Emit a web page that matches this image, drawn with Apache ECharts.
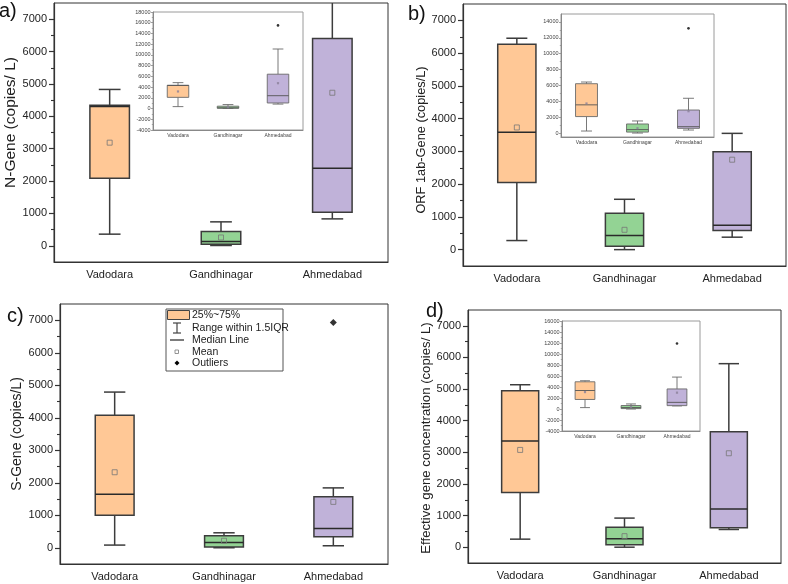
<!DOCTYPE html>
<html>
<head>
<meta charset="utf-8">
<script src="https://cdn.jsdelivr.net/npm/echarts@6/dist/echarts.min.js"></script>
<style>html,body{margin:0;padding:0;background:#fff}#chart{width:788px;height:584px}</style>
</head>
<body>
<div id="chart"></div>
<script>
// ---------------- DATA ----------------
const categories = ['Vadodara', 'Gandhinagar', 'Ahmedabad'];

// Each box: [min whisker, Q1, median, Q3, max whisker]
// Panel a) N-Gene (main + inset share the same data)
const nGeneBox = [[360, 2086, 4300, 4340, 4830], [10, 51, 134, 442, 740], [832, 1038, 2395, 6403, 11100]];
const nGeneMean = [3186, 257, 4728];
const nGeneOutliers = [[2, 15500]];

// Panel b) ORF 1ab-Gene (main)
const orfBox = [[277, 2049, 3586, 6270, 6455], [0, 102, 430, 1107, 1537], [380, 584, 748, 2992, 3550]];
const orfMean = [3730, 605, 2746];
const orfOutliers = [[2, 13200]];
// Panel b) inset
const orfInsetBox = [[254, 2072, 3552, 6216, 6427], [0, 120, 430, 1142, 1522], [380, 592, 800, 2900, 4380]];
const orfInsetMean = [3721, 605, 2750];
const orfInsetOutliers = [[2, 13190]];

// Panel c) S-Gene
const sGeneBox = [[82, 1003, 1648, 4074, 4790], [0, 20, 164, 368, 460], [61, 338, 594, 1566, 1842]];
const sGeneMean = [2323, 215, 1412];
const sGeneOutliers = [[2, 6930]];

// Panel d) Effective gene concentration (main + inset share)
const effBox = [[254, 1733, 3361, 4947, 5137], [0, 74, 264, 634, 920], [560, 613, 1205, 3647, 5803]];
const effMean = [3076, 349, 2970];
const effOutliers = [[2, 11900]];

// Tick labels
const mainTicks = [0, 1000, 2000, 3000, 4000, 5000, 6000, 7000];
const mainMinorTicks = [500, 1500, 2500, 3500, 4500, 5500, 6500];
const insetTicksA = [-4000, -2000, 0, 2000, 4000, 6000, 8000, 10000, 12000, 14000, 16000, 18000];
const insetMinorA = [-3000, -1000, 1000, 3000, 5000, 7000, 9000, 11000, 13000, 15000, 17000];
const insetTicksB = [0, 2000, 4000, 6000, 8000, 10000, 12000, 14000];
const insetMinorB = [1000, 3000, 5000, 7000, 9000, 11000, 13000];
const insetTicksD = [-4000, -2000, 0, 2000, 4000, 6000, 8000, 10000, 12000, 14000, 16000];
const insetMinorD = [-3000, -1000, 1000, 3000, 5000, 7000, 9000, 11000, 13000, 15000];

// ---------------- STYLE ----------------
const boxColors = ['#FFC896', '#93D394', '#C0B2D9'];
const FONT = 'Liberation Sans, Arial, Helvetica, sans-serif';

function boxRenderer(st) {
  return function (params, api) {
    const idx = api.value(0);
    const v = [api.value(1), api.value(2), api.value(3), api.value(4), api.value(5)];
    const cs = params.coordSys;
    const top = cs.y, bot = cs.y + cs.height;
    const cl = y => Math.max(top, Math.min(bot, y));
    const band = api.size([1, 0])[0];
    const bw = band * st.boxFrac, cw = bw * st.capFrac;
    const x = api.coord([idx, v[2]])[0];
    const y = v.map(val => api.coord([idx, val])[1]);
    const ls = { stroke: st.stroke, lineWidth: st.lw, fill: null };
    const ch = [];
    ch.push({ type: 'line', shape: { x1: x, y1: cl(y[3]), x2: x, y2: cl(y[4]) }, style: ls });
    if (y[4] >= top) ch.push({ type: 'line', shape: { x1: x - cw / 2, y1: y[4], x2: x + cw / 2, y2: y[4] }, style: ls });
    ch.push({ type: 'line', shape: { x1: x, y1: cl(y[1]), x2: x, y2: cl(y[0]) }, style: ls });
    if (y[0] <= bot) ch.push({ type: 'line', shape: { x1: x - cw / 2, y1: y[0], x2: x + cw / 2, y2: y[0] }, style: ls });
    ch.push({ type: 'rect', shape: { x: x - bw / 2, y: cl(y[3]), width: bw, height: cl(y[1]) - cl(y[3]) },
      style: { fill: boxColors[idx], stroke: st.stroke, lineWidth: st.lw } });
    ch.push({ type: 'line', shape: { x1: x - bw / 2, y1: y[2], x2: x + bw / 2, y2: y[2] },
      style: { stroke: st.median, lineWidth: st.lw } });
    return { type: 'group', children: ch };
  };
}

const mainStyle = { boxFrac: 0.355, capFrac: 0.55, lw: 1.5, stroke: '#3c3c3c', median: '#2a2a2a' };
const insetStyle = { boxFrac: 0.43, capFrac: 0.5, lw: 0.9, stroke: '#6a6a6a', median: '#555' };
const plainNum = v => String(v);

const grids = [], xAxes = [], yAxes = [], series = [];

function addPanel(p) {
  const gi = grids.length;
  const inset = !!p.inset;
  grids.push({ left: p.left, top: p.top, width: p.width, height: p.height, show: true,
    borderColor: inset ? '#9a9a9a' : '#333', borderWidth: 1,
    backgroundColor: inset ? '#fff' : 'transparent', containLabel: false });
  const axisColor = inset ? '#888' : '#333';
  xAxes.push({ type: 'category', gridIndex: gi, data: categories, position: 'bottom',
    axisLine: { onZero: false, lineStyle: { color: axisColor, width: inset ? 1 : 1.2 } },
    axisTick: { alignWithLabel: true, length: inset ? 2 : 5, lineStyle: { color: axisColor, width: inset ? 0.8 : 1.2 } },
    axisLabel: { color: inset ? '#444' : '#222', fontFamily: FONT, fontSize: inset ? 5 : 11, margin: inset ? 3 : 7 },
    splitLine: { show: false } });
  const yi = yAxes.length;
  yAxes.push({ type: 'value', gridIndex: gi, position: 'left', min: p.min, max: p.max,
    name: p.title || '', nameLocation: 'middle', nameGap: p.nameGap || 35,
    nameTextStyle: { fontFamily: FONT, fontSize: p.titleSize || 14, color: '#222', padding: p.titlePad || 0 },
    axisLine: { show: true, onZero: false, lineStyle: { color: axisColor, width: inset ? 1 : 1.2 } },
    axisTick: { show: true, customValues: p.ticks, length: inset ? 2 : 5, lineStyle: { color: axisColor, width: inset ? 0.8 : 1.2 } },
    axisLabel: { customValues: p.ticks, formatter: plainNum, color: inset ? '#444' : '#222', fontFamily: FONT, fontSize: inset ? 5.5 : 11, margin: inset ? 2.5 : 7 },
    splitLine: { show: false } });
  yAxes.push({ type: 'value', gridIndex: gi, position: 'left', min: p.min, max: p.max,
    axisLine: { show: false, onZero: false }, axisLabel: { show: false }, splitLine: { show: false },
    axisTick: { show: true, customValues: p.minor, length: inset ? 1.2 : 3, lineStyle: { color: axisColor, width: inset ? 0.7 : 1.1 } } });
  series.push({ type: 'custom', xAxisIndex: gi, yAxisIndex: yi, renderItem: boxRenderer(inset ? insetStyle : mainStyle),
    encode: { x: 0, y: [1, 2, 3, 4, 5] }, data: p.box.map((b, i) => [i].concat(b)), z: 2 });
  series.push({ type: 'scatter', xAxisIndex: gi, yAxisIndex: yi, data: p.mean.map((m, i) => [i, m]),
    symbol: 'rect', symbolSize: inset ? 2.2 : 5, z: 3, clip: true,
    itemStyle: inset ? { color: '#8a7f99' } : { color: 'rgba(0,0,0,0)', borderColor: '#777', borderWidth: 1 } });
  series.push({ type: 'scatter', xAxisIndex: gi, yAxisIndex: yi, data: p.outliers,
    symbol: inset ? 'circle' : 'diamond', symbolSize: inset ? 2.6 : 7, z: 3, clip: true,
    itemStyle: { color: '#000' } });
}

// a) main + inset
addPanel({ left: 54, top: 3, width: 334, height: 259, min: -500, max: 7500, ticks: mainTicks, minor: mainMinorTicks,
  title: 'N-Gene (copies/ L)', nameGap: 33, titleSize: 15.5, titlePad: [0, 0, 0, 20],
  box: nGeneBox, mean: nGeneMean, outliers: nGeneOutliers });
addPanel({ inset: true, left: 153, top: 12, width: 150, height: 118, min: -4000, max: 18000, ticks: insetTicksA, minor: insetMinorA,
  box: nGeneBox, mean: nGeneMean, outliers: nGeneOutliers });
// b) main + inset
addPanel({ left: 463, top: 4, width: 323, height: 262, min: -500, max: 7500, ticks: mainTicks, minor: mainMinorTicks,
  title: 'ORF 1ab-Gene (copies/L)', nameGap: 32, titleSize: 12.8, titlePad: [0, 10, 0, 0],
  box: orfBox, mean: orfMean, outliers: orfOutliers });
addPanel({ inset: true, left: 561, top: 14, width: 153, height: 123, min: -500, max: 15000, ticks: insetTicksB, minor: insetMinorB,
  box: orfInsetBox, mean: orfInsetMean, outliers: orfInsetOutliers });
// c) main
addPanel({ left: 60, top: 304, width: 328, height: 260, min: -500, max: 7500, ticks: mainTicks, minor: mainMinorTicks,
  title: 'S-Gene (copies/L)', nameGap: 31, titleSize: 14,
  box: sGeneBox, mean: sGeneMean, outliers: sGeneOutliers });
// d) main + inset
addPanel({ left: 468, top: 310, width: 313, height: 253, min: -500, max: 7500, ticks: mainTicks, minor: mainMinorTicks,
  title: 'Effective gene concentration (copies/ L)', nameGap: 30, titleSize: 13.2, titlePad: [0, 3, 0, 0],
  box: effBox, mean: effMean, outliers: effOutliers });
addPanel({ inset: true, left: 562, top: 321, width: 138, height: 110, min: -4000, max: 16000, ticks: insetTicksD, minor: insetMinorD,
  box: effBox, mean: effMean, outliers: effOutliers });

// Legend (panel c) and panel letters
const legendTexts = ['25%~75%', 'Range within 1.5IQR', 'Median Line', 'Mean', 'Outliers'];
const legendY = [315, 328, 340, 352, 363];
const graphic = [
  { type: 'rect', shape: { x: 166, y: 309, width: 117, height: 62 }, style: { fill: '#fff', stroke: '#555', lineWidth: 1 }, z: 10 },
  { type: 'rect', shape: { x: 167.5, y: 310.5, width: 22, height: 9 }, style: { fill: boxColors[0], stroke: '#444', lineWidth: 1 }, z: 11 },
  { type: 'line', shape: { x1: 177, y1: 323, x2: 177, y2: 333 }, style: { stroke: '#444', lineWidth: 1.2 }, z: 11 },
  { type: 'line', shape: { x1: 173, y1: 323, x2: 181, y2: 323 }, style: { stroke: '#444', lineWidth: 1.2 }, z: 11 },
  { type: 'line', shape: { x1: 173, y1: 333, x2: 181, y2: 333 }, style: { stroke: '#444', lineWidth: 1.2 }, z: 11 },
  { type: 'line', shape: { x1: 170, y1: 340, x2: 184, y2: 340 }, style: { stroke: '#444', lineWidth: 1.4 }, z: 11 },
  { type: 'rect', shape: { x: 175, y: 350, width: 3.5, height: 3.5 }, style: { fill: 'none', stroke: '#888', lineWidth: 0.9 }, z: 11 },
  { type: 'polygon', shape: { points: [[177, 360.5], [179.5, 363], [177, 365.5], [174.5, 363]] }, style: { fill: '#000' }, z: 11 }
];
legendTexts.forEach((t, i) => graphic.push({ type: 'text', x: 192, y: legendY[i], z: 11,
  style: { text: t, fontFamily: FONT, fontSize: 10.5, fill: '#222', verticalAlign: 'middle', align: 'left' } }));
[['a)', -1, 11], ['b)', 408, 14], ['c)', 7, 316], ['d)', 426, 311]].forEach(([t, x, y]) =>
  graphic.push({ type: 'text', x: x, y: y, z: 12,
    style: { text: t, fontFamily: FONT, fontSize: 20, fill: '#111', verticalAlign: 'middle', align: 'left' } }));

const chart = echarts.init(document.getElementById('chart'), null, { renderer: 'canvas' });
chart.setOption({
  animation: false,
  backgroundColor: '#fff',
  grid: grids, xAxis: xAxes, yAxis: yAxes, series: series, graphic: graphic
});
</script>
</body>
</html>
